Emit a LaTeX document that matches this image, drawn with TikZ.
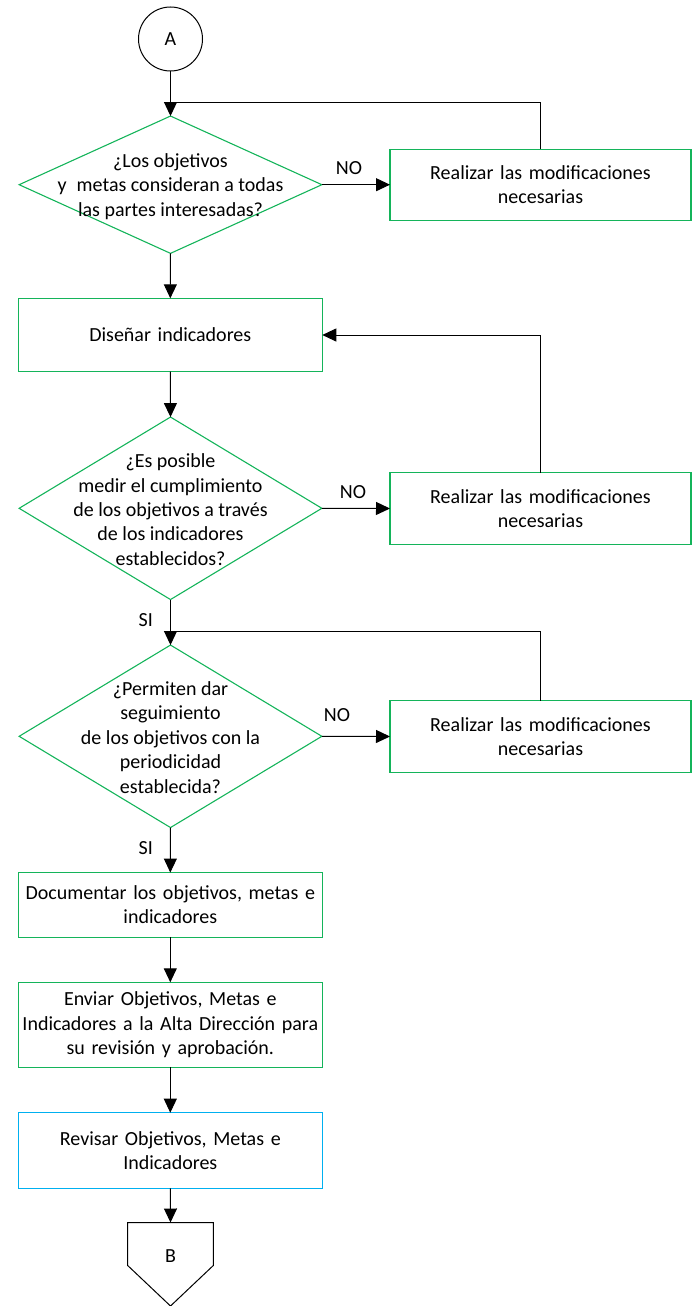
\documentclass[tikz,border=0pt]{standalone}
\usepackage{fontspec}
\setmainfont{Carlito}
\usetikzlibrary{arrows.meta,shapes.geometric}

\definecolor{stepgreen}{RGB}{20,180,90}
\definecolor{reviewblue}{RGB}{0,176,240}

\tikzset{
  txt/.style={font=\fontsize{20}{24.4}\selectfont, align=center, inner sep=0pt, outer sep=0pt},
  procbox/.style={rectangle, draw=stepgreen, line width=1.1pt, txt},
  mainbox/.style={procbox, minimum width=304pt, text width=300pt},
  fixbox/.style={procbox, minimum width=301pt, text width=296pt},
  decision/.style={diamond, draw=stepgreen, line width=1.1pt, inner sep=0pt, outer sep=0pt,
                   minimum width=302.7pt},
  conn/.style={draw=black, line width=1pt},
  arr/.style={conn, -{Triangle[length=14pt,width=13pt]}},
}

\begin{document}
\begin{tikzpicture}[x=1pt,y=-1pt]
\useasboundingbox (0,0) rectangle (692,1306);

% start connector
\node[circle, draw=black, line width=1pt, minimum size=64pt, txt] (A) at (170.5,39) {A};

% first check
\node[decision, minimum height=137.3pt] (d1) at (170.5,184.7) {};
\node[txt] (d1t) at (170.5,186.5) {¿Los objetivos\\y\enspace metas consideran a todas\\las partes interesadas?};
\node[fixbox, minimum height=70.7pt] (r1) at (540.5,184.7) {Realizar las modificaciones\\necesarias};

% indicator design
\node[mainbox, minimum height=73.4pt] (dis) at (170.3,335) {Diseñar indicadores};

% second check
\node[decision, minimum height=182.5pt] (d2) at (170.5,508.3) {};
\node[txt] (d2t) at (170.5,509.7) {¿Es posible\\medir el cumplimiento\\de los objetivos a través\\de los indicadores\\establecidos?};
\node[fixbox, minimum height=71.6pt] (r2) at (540.5,508.5) {Realizar las modificaciones\\necesarias};

% third check
\node[decision, minimum height=182.5pt] (d3) at (170.5,736.3) {};
\node[txt] (d3t) at (170.5,737.5) {¿Permiten dar\\seguimiento\\de los objetivos con la\\periodicidad\\establecida?};
\node[fixbox, minimum height=71.6pt] (r3) at (540.5,736.5) {Realizar las modificaciones\\necesarias};

% documentation and approval
\node[mainbox, minimum height=64.5pt] (doc) at (170.3,904.8) {Documentar los objetivos, metas e\\indicadores};
\node[mainbox, minimum height=85pt] (env) at (170.3,1024.8) {Enviar Objetivos, Metas e\\Indicadores a la Alta Dirección para\\su revisión y aprobación.};
\node[mainbox, draw=reviewblue, minimum height=75.6pt] (rev) at (170.3,1150.5) {Revisar Objetivos, Metas e\\Indicadores};

% off-page connector
\draw[draw=black, line width=1pt, line join=miter]
  (127.7,1222.5) -- (213.3,1222.5) -- (213.3,1265.5) -- (170.5,1306) -- (127.7,1265.5) -- cycle;
\coordinate (Btop) at (170.5,1222.5);
\node[txt] (B) at (170.5,1256) {B};

% branch labels
\node[txt] (no1) at (349,168) {NO};
\node[txt] (no2) at (353,492) {NO};
\node[txt] (no3) at (337,715) {NO};
\node[txt] (si1) at (145.7,620) {SI};
\node[txt] (si2) at (145.7,848) {SI};

% junctions where the loops rejoin the main line
\coordinate (j1) at (170.5,102.5);
\coordinate (j3) at (170.5,631.7);

% connectors
\draw[arr] (A) -- (d1.north);
\draw[arr] (d1.east) -- (r1.west);
\draw[conn] (r1.north) |- (j1);
\draw[arr] (d1.south) -- (dis.north);
\draw[arr] (dis.south) -- (d2.north);
\draw[arr] (d2.east) -- (r2.west);
\draw[arr] (r2.north) |- (dis.east);
\draw[arr] (d2.south) -- (d3.north);
\draw[arr] (d3.east) -- (r3.west);
\draw[conn] (r3.north) |- (j3);
\draw[arr] (d3.south) -- (doc.north);
\draw[arr] (doc) -- (env);
\draw[arr] (env) -- (rev);
\draw[arr] (rev) -- (Btop);
\end{tikzpicture}
\end{document}
